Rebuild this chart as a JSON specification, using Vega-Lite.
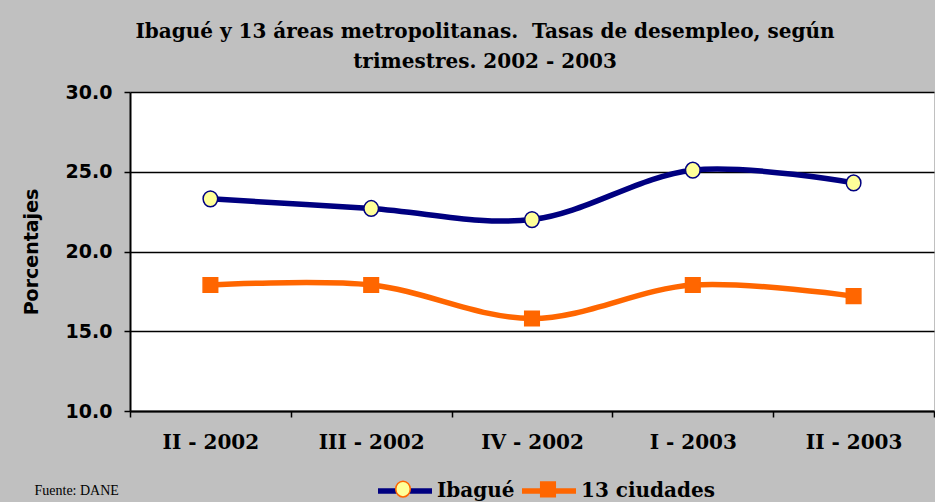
{
  "$schema": "https://vega.github.io/schema/vega-lite/v6.json",
  "autosize": "none",
  "width": 804,
  "height": 319,
  "padding": {"left": 130, "top": 92, "right": 1, "bottom": 91},
  "background": "#C0C0C0",
  "view": {"fill": "white", "stroke": null},
  "title": {
    "text": ["Ibagué y 13 áreas metropolitanas.\u00a0 Tasas de desempleo, según", "trimestres. 2002 - 2003"],
    "font": "DejaVu Serif",
    "fontWeight": "bold",
    "fontSize": 20,
    "lineHeight": 30,
    "color": "black",
    "anchor": "middle",
    "dx": -47,
    "offset": 11
  },
  "data": {
    "values": [
      {"trimestre": "II - 2002", "serie": "Ibagué", "tasa": 23.3},
      {"trimestre": "III - 2002", "serie": "Ibagué", "tasa": 22.7},
      {"trimestre": "IV - 2002", "serie": "Ibagué", "tasa": 22.0},
      {"trimestre": "I - 2003", "serie": "Ibagué", "tasa": 25.1},
      {"trimestre": "II - 2003", "serie": "Ibagué", "tasa": 24.3},
      {"trimestre": "II - 2002", "serie": "13 ciudades", "tasa": 17.9},
      {"trimestre": "III - 2002", "serie": "13 ciudades", "tasa": 17.9},
      {"trimestre": "IV - 2002", "serie": "13 ciudades", "tasa": 15.8},
      {"trimestre": "I - 2003", "serie": "13 ciudades", "tasa": 17.9},
      {"trimestre": "II - 2003", "serie": "13 ciudades", "tasa": 17.2}
    ]
  },
  "encoding": {
    "x": {
      "field": "trimestre",
      "type": "ordinal",
      "sort": ["II - 2002", "III - 2002", "IV - 2002", "I - 2003", "II - 2003"],
      "scale": {"type": "band", "paddingInner": 0, "paddingOuter": 0},
      "bandPosition": 0.5,
      "axis": {
        "labelAngle": 0,
        "labelFont": "DejaVu Serif",
        "labelFontWeight": "bold",
        "labelFontSize": 20,
        "labelColor": "black",
        "labelPadding": 15,
        "tickBand": "extent",
        "tickSize": 6,
        "tickColor": "black",
        "tickWidth": 1.5,
        "domainColor": "black",
        "domainWidth": 2,
        "grid": false,
        "title": "Fuente: DANE",
        "titleFont": "Liberation Serif",
        "titleFontWeight": "normal",
        "titleFontSize": 14,
        "titleColor": "black",
        "titleAnchor": "start",
        "titleAlign": "left",
        "titleBaseline": "alphabetic",
        "titleX": -96,
        "titleY": 83
      }
    },
    "y": {
      "field": "tasa",
      "type": "quantitative",
      "scale": {"domain": [10, 30], "nice": false},
      "axis": {
        "values": [10, 15, 20, 25, 30],
        "format": ".1f",
        "labelFont": "DejaVu Sans",
        "labelFontWeight": "bold",
        "labelFontSize": 19,
        "labelColor": "black",
        "labelPadding": 12,
        "tickSize": 6,
        "tickColor": "black",
        "tickWidth": 1.5,
        "domainColor": "black",
        "domainWidth": 2,
        "grid": true,
        "gridColor": "black",
        "gridWidth": 1.5,
        "gridOpacity": 1,
        "title": "Porcentajes",
        "titleFont": "DejaVu Sans",
        "titleFontWeight": "bold",
        "titleFontSize": 19,
        "titleColor": "black",
        "titlePadding": 24
      }
    }
  },
  "layer": [
    {
      "mark": {"type": "line", "interpolate": "catmull-rom", "strokeWidth": 5.5},
      "encoding": {
        "stroke": {
          "field": "serie",
          "type": "nominal",
          "scale": {"domain": ["Ibagué", "13 ciudades"], "range": ["#000080", "#FF6600"]},
          "legend": {
            "title": null,
            "orient": "none",
            "direction": "horizontal",
            "legendX": 245,
            "legendY": 369,
            "symbolType": "stroke",
            "symbolSize": 2916,
            "symbolStrokeWidth": 5.5,
            "labelFont": "DejaVu Serif",
            "labelFontWeight": "bold",
            "labelFontSize": 20,
            "labelColor": "black",
            "labelOffset": 2,
            "columnPadding": -4
          }
        }
      }
    },
    {
      "mark": {"type": "point", "filled": true, "size": 2916, "opacity": 1, "strokeWidth": 1.5},
      "encoding": {
        "fill": {
          "field": "serie",
          "type": "nominal",
          "sort": "descending",
          "scale": {"range": ["#FFFF99", "#FF6600"]},
          "legend": {
            "title": null,
            "orient": "none",
            "direction": "horizontal",
            "legendX": 245,
            "legendY": 369,
            "symbolSize": 2916,
            "labelExpr": "''",
            "labelFontSize": 20,
            "labelOffset": 2,
            "columnPadding": 87,
            "encode": {
              "symbols": {
                "update": {
                  "stroke": {"signal": "datum.value === 'Ibagué' ? '#000080' : '#FF6600'"},
                  "strokeWidth": {"value": 1.5},
                  "opacity": {"value": 1}
                }
              }
            }
          }
        },
        "shape": {
          "field": "serie",
          "type": "nominal",
          "sort": "descending",
          "scale": {"range": ["M-0.27,0A0.27,0.29,0,1,1,0.27,0A0.27,0.29,0,1,1,-0.27,0Z", "M-0.27,-0.27H0.27V0.27H-0.27Z"]},
          "legend": {
            "title": null,
            "orient": "none",
            "direction": "horizontal",
            "legendX": 245,
            "legendY": 369,
            "symbolSize": 2916,
            "labelExpr": "''",
            "labelFontSize": 20,
            "labelOffset": 2,
            "columnPadding": 87
          }
        },
        "stroke": {
          "condition": {"test": "datum.serie === 'Ibagué'", "value": "#000080"},
          "value": "#FF6600"
        }
      }
    }
  ]
}
